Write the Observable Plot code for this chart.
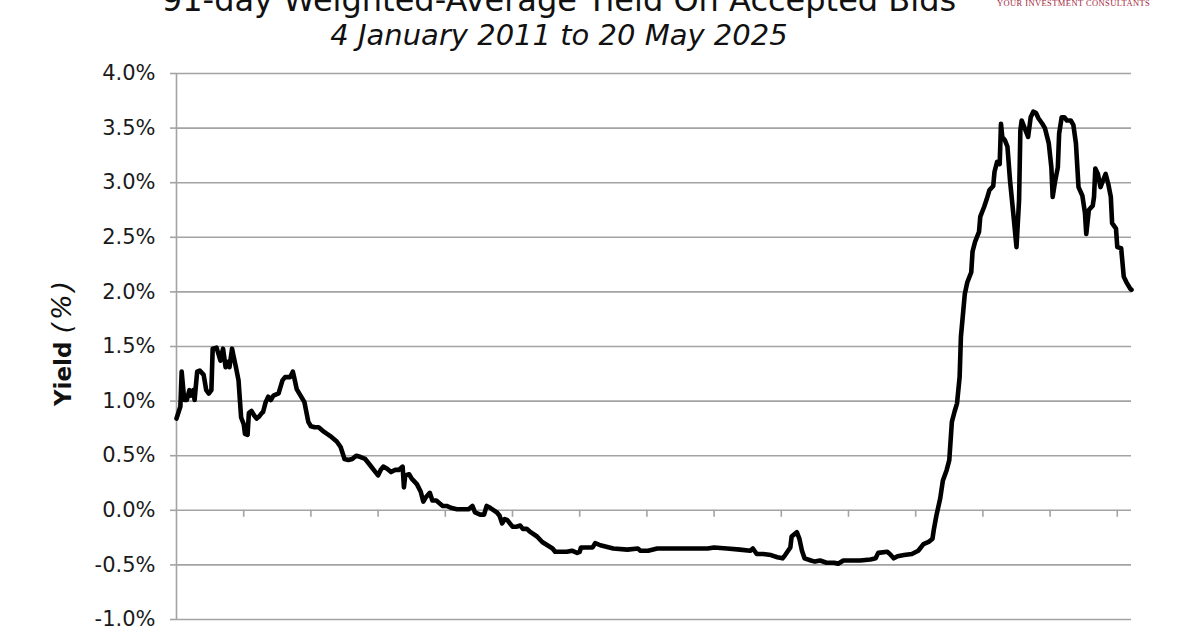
<!DOCTYPE html>
<html>
<head>
<meta charset="utf-8">
<script src="https://cdn.jsdelivr.net/npm/d3@7"></script>
<script src="https://cdn.jsdelivr.net/npm/@observablehq/plot@0.6"></script>
<style>
  html, body { margin: 0; padding: 0; background: #fff; }
  body { width: 1200px; height: 630px; position: relative; overflow: hidden; font-family: "DejaVu Sans", Verdana, sans-serif; }
  #chart { position: absolute; left: 0; top: 0; }
  .title { position: absolute; left: 0; width: 1118px; text-align: center; white-space: nowrap; color: #111; }
  #t1 { top: -16px; font-size: 32px; line-height: 32px; }
  #t2 { top: 21px; font-size: 29px; line-height: 29px; font-style: italic; }
  #logo { position: absolute; left: 997px; top: -2px; font-family: "Liberation Serif", serif; font-size: 8.5px; line-height: 10px; color: #a3263c; letter-spacing: 0.4px; white-space: nowrap; }
  #ylab { position: absolute; left: 64px; top: 342px; transform: translate(-50%, -50%) rotate(-90deg); white-space: nowrap; color: #111; line-height: 30px; }
  #ylab b { font-size: 23px; margin-right: 8px; }
  #ylab i { font-size: 27px; letter-spacing: 3px; }
</style>
</head>
<body>
<div id="chart"></div>
<div class="title" id="t1">91-day Weighted-Average Yield On Accepted Bids</div>
<div class="title" id="t2">4 January 2011 to 20 May 2025</div>
<div id="logo">YOUR INVESTMENT CONSULTANTS</div>
<div id="ylab"><b>Yield</b><i>(%)</i></div>
<script>
// Weekly auction number (0 = 4 Jan 2011, last = 20 May 2025)
const auction = [0,3,4,6,8,10,11,13,14,16,18,21,23,25,27,28,31,34,36,38,40,41,43,44,46,48,50,52,53,55,56,58,60,62,64,66,67,69,71,73,75,79,82,84,88,90,91,93,96,99,102,104,107,110,114,119,124,127,130,133,136,139,142,146,150,154,156,158,160,163,166,169,172,175,176,177,180,182,186,189,191,193,196,198,201,206,209,213,217,222,226,229,231,235,238,240,243,248,250,252,254,256,260,263,266,268,271,274,279,283,287,291,293,297,302,306,310,312,313,322,324,328,338,349,357,359,365,372,385,400,411,416,426,436,444,446,449,454,460,465,469,471,475,476,480,482,484,486,491,494,498,503,509,512,516,521,529,537,541,543,550,552,555,558,563,569,574,578,582,585,586,588,591,593,596,598,600,602,604,606,607,609,610,612,615,616,618,621,622,625,627,629,632,633,635,637,638,639,641,643,645,648,650,652,653,654,657,659,661,663,665,667,670,672,675,677,678,680,682,683,685,687,689,692,694,696,698,701,703,704,706,709,710,711,713,715,717,719,721,723,724,727,728,731,733,735,738,739];
// Weighted-average yield on accepted bids (%)
const yieldPct = [0.84,0.95,1.27,1.01,1.01,1.10,1.05,1.10,1.01,1.27,1.28,1.24,1.10,1.07,1.10,1.48,1.49,1.37,1.48,1.31,1.36,1.31,1.48,1.42,1.31,1.19,0.85,0.79,0.70,0.69,0.89,0.91,0.87,0.84,0.86,0.89,0.90,0.99,1.04,1.01,1.05,1.07,1.19,1.22,1.22,1.27,1.22,1.11,1.05,0.99,0.81,0.77,0.76,0.76,0.72,0.68,0.63,0.58,0.47,0.46,0.47,0.50,0.49,0.47,0.41,0.35,0.32,0.37,0.40,0.38,0.35,0.37,0.37,0.40,0.21,0.32,0.33,0.29,0.24,0.17,0.08,0.12,0.16,0.09,0.09,0.04,0.04,0.02,0.01,0.01,0.01,0.04,-0.02,-0.04,-0.04,0.04,0.02,-0.02,-0.05,-0.12,-0.08,-0.09,-0.15,-0.15,-0.14,-0.17,-0.17,-0.20,-0.24,-0.29,-0.32,-0.35,-0.38,-0.38,-0.38,-0.37,-0.39,-0.38,-0.34,-0.34,-0.30,-0.32,-0.35,-0.36,-0.35,-0.37,-0.37,-0.35,-0.35,-0.35,-0.35,-0.34,-0.35,-0.36,-0.37,-0.35,-0.40,-0.40,-0.41,-0.43,-0.44,-0.41,-0.34,-0.24,-0.20,-0.26,-0.37,-0.44,-0.46,-0.47,-0.46,-0.48,-0.48,-0.49,-0.46,-0.46,-0.46,-0.45,-0.44,-0.39,-0.38,-0.40,-0.44,-0.42,-0.41,-0.40,-0.37,-0.31,-0.29,-0.26,-0.18,-0.05,0.11,0.27,0.37,0.46,0.81,0.90,0.98,1.22,1.59,1.85,1.98,2.09,2.18,2.37,2.46,2.55,2.69,2.78,2.85,2.93,2.97,3.10,3.19,3.17,3.54,3.42,3.39,3.33,3.02,2.66,2.41,2.84,3.48,3.57,3.48,3.42,3.60,3.65,3.64,3.59,3.54,3.50,3.36,3.14,2.87,3.02,3.14,3.45,3.60,3.60,3.57,3.57,3.53,3.36,2.96,2.88,2.72,2.53,2.75,2.79,2.87,3.13,3.08,2.96,3.02,3.08,2.99,2.87,2.63,2.58,2.41,2.40,2.14,2.09,2.03,2.02];
// Y tick values (%)
const yTicks = [-1.0, -0.5, 0.0, 0.5, 1.0, 1.5, 2.0, 2.5, 3.0, 3.5, 4.0];
// X tick marks every 52 auctions
const xTicks = [52, 104, 156, 208, 260, 312, 364, 416, 468, 520, 572, 624, 676, 728];

const data = auction.map((a, i) => ({auction: a, yield: yieldPct[i]}));
const grid = "#a3a3a3";

const chart = Plot.plot({
  width: 1200,
  height: 630,
  marginLeft: 176,
  marginRight: 69,
  marginTop: 73,
  marginBottom: 11,
  style: {fontFamily: "DejaVu Sans, Verdana, sans-serif", fontSize: "21px", color: "#1a1a1a", background: "transparent"},
  x: {domain: [0, 739], axis: null},
  y: {domain: [-1, 4], axis: null},
  marks: [
    Plot.ruleY(yTicks, {stroke: grid, strokeWidth: 1.6}),
    Plot.ruleX([0], {stroke: grid, strokeWidth: 1.6}),
    Plot.ruleX(xTicks, {y1: 0, y2: -0.064, stroke: grid, strokeWidth: 1.6}),
    Plot.axisY({ticks: yTicks, label: null, tickFormat: d => d.toFixed(1) + "%", tickSize: 6, tickPadding: 15, stroke: grid, strokeWidth: 1.6, fontSize: 21, fill: "#1a1a1a"}),
    Plot.line(data, {x: "auction", y: "yield", stroke: "#000", strokeWidth: 4.6, strokeLinejoin: "round", strokeLinecap: "round"})
  ]
});
document.getElementById("chart").appendChild(chart);
</script>
</body>
</html>
